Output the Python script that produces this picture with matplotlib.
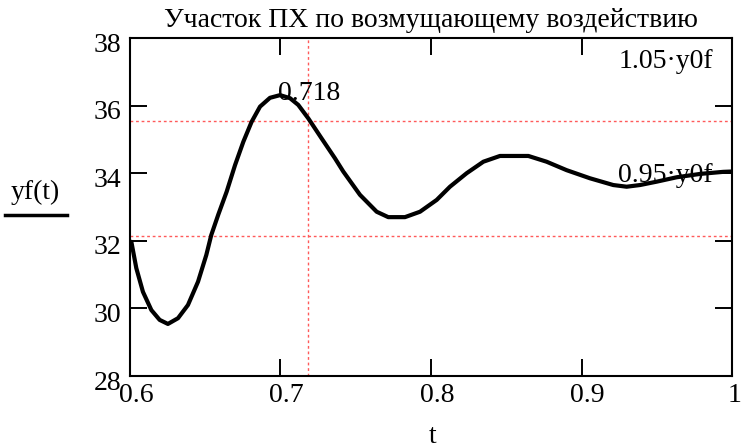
import numpy as np
import matplotlib
matplotlib.use("Agg")
import matplotlib.pyplot as plt
import matplotlib.transforms as mtransforms

plt.rcParams['font.family'] = ['Liberation Serif', 'DejaVu Serif']

# curve
t = [0.6009, 0.6042, 0.6086, 0.6142, 0.6197, 0.6252, 0.6319, 0.6385, 0.6452,
     0.6507, 0.654, 0.6587, 0.6642, 0.6698, 0.6753, 0.6808, 0.6864, 0.693,
     0.6997, 0.7063, 0.7118, 0.7185, 0.7273, 0.7362, 0.7417, 0.7528, 0.7639,
     0.7716, 0.7827, 0.7927, 0.8038, 0.8126, 0.8237, 0.8348, 0.8458, 0.8647,
     0.8768, 0.8901, 0.9056, 0.9211, 0.93, 0.9389, 0.950, 0.9633, 0.979,
     0.9942, 1.0]
yf = [31.97, 31.19, 30.49, 29.95, 29.66, 29.54, 29.71, 30.10, 30.79,
      31.58, 32.17, 32.78, 33.45, 34.24, 34.93, 35.52, 35.97, 36.23,
      36.31, 36.22, 36.02, 35.62, 35.03, 34.44, 34.05, 33.36, 32.86,
      32.70, 32.70, 32.86, 33.21, 33.60, 34.00, 34.34, 34.51, 34.51,
      34.34, 34.09, 33.85, 33.65, 33.60, 33.65, 33.75, 33.88, 33.98,
      34.04, 34.05]

y0f = 33.84
t_mark = 0.718
x_ticks = [0.6, 0.7, 0.8, 0.9, 1.0]
x_labels = ["0.6", "0.7", "0.8", "0.9", "1"]
y_ticks = [28, 30, 32, 34, 36, 38]
title = "Участок ПХ по возмущающему воздействию"

fig = plt.figure(figsize=(7.42, 4.48), dpi=100)
ax = fig.add_axes([130/742, 1 - 376/448, 602/742, 338/448])

red = "#ff5a5a"
ax.axhline(1.05 * y0f, color=red, lw=1, ls=(0, (2, 2)))
ax.axhline(0.95 * y0f, color=red, lw=1, ls=(0, (2, 2)))
ax.axvline(t_mark, color=red, lw=1, ls=(0, (2, 2)))

ax.plot(t, yf, color="black", lw=3, solid_joinstyle="round",
        solid_capstyle="round")

ax.set_xlim(0.6, 1.0)
ax.set_ylim(28, 38)
ax.set_xticks(x_ticks)
ax.set_xticklabels(x_labels)
ax.set_yticks(y_ticks)
ax.tick_params(direction="in", length=12, width=1.4, top=True, right=True,
               labelsize=20, colors="black")
ax.tick_params(axis="x", pad=5)
ax.tick_params(axis="y", pad=6)
for s in ax.spines.values():
    s.set_linewidth(1.5)

# shift tick labels like Mathcad does
xlabs = ax.get_xticklabels()
for i, lab in enumerate(xlabs):
    shift = 6 if i < len(xlabs) - 1 else 3
    dx = mtransforms.ScaledTranslation(shift/100, 0, fig.dpi_scale_trans)
    lab.set_transform(lab.get_transform() + dx)
dy = mtransforms.ScaledTranslation(0, -4/100, fig.dpi_scale_trans)
for lab in ax.get_yticklabels():
    lab.set_transform(lab.get_transform() + dy)

ax.text(0.6985, 36.17, "0.718", fontsize=20, ha="left", va="baseline")
ax.text(0.9874, 37.11, "1.05·y0f", fontsize=20, ha="right", va="baseline")
ax.text(0.9874, 33.74, "0.95·y0f", fontsize=20, ha="right", va="baseline")

fig.text(431/742, 1 - 27/448, title, fontsize=20, ha="center", va="baseline")
fig.text(35/742, 1 - 199/448, "yf(t)", fontsize=20, ha="center", va="baseline")
fig.add_artist(plt.Line2D([5/742, 67/742], [1 - 215/448, 1 - 215/448],
                          color="black", lw=2.5))
fig.text(433/742, 1 - 443/448, "t", fontsize=20, ha="center", va="baseline")

fig.savefig("out.png", dpi=100)
